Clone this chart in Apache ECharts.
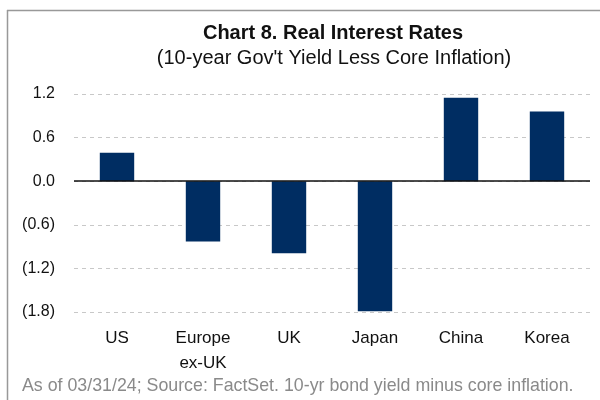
<!DOCTYPE html>
<html><head><meta charset="utf-8">
<script src="https://cdn.jsdelivr.net/npm/echarts@6/dist/echarts.min.js"></script>
<style>html,body{margin:0;padding:0;background:#fff}#c{width:600px;height:400px}</style>
</head><body><div id="c"></div>
<script>
var categories = ['US', 'Europe\nex-UK', 'UK', 'Japan', 'China', 'Korea'];
var values = [0.39, -0.83, -0.99, -1.79, 1.15, 0.96];
var yMin = -1.8, yMax = 1.2, yStep = 0.6;

function fmt(v) {
  var a = Math.abs(v).toFixed(1);
  return v < -1e-9 ? '(' + a + ')' : a;
}

var FF = 'Liberation Sans, Arial, sans-serif';
var chart = echarts.init(document.getElementById('c'), null, {renderer: 'canvas'});
chart.setOption({
  animation: false,
  textStyle: {fontFamily: FF},
  graphic: [
    {type: 'line', shape: {x1: 7, y1: 10.5, x2: 600, y2: 10.5}, style: {stroke: '#999', lineWidth: 1.5}},
    {type: 'line', shape: {x1: 7.5, y1: 10, x2: 7.5, y2: 400}, style: {stroke: '#999', lineWidth: 1.5}}
  ],
  title: [
    {text: 'Chart 8. Real Interest Rates', left: 328, top: 18, textAlign: 'center',
     textStyle: {fontSize: 20, fontWeight: 'bold', color: '#111', fontFamily: FF}},
    {text: "(10-year Gov't Yield Less Core Inflation)", left: 329, top: 43, textAlign: 'center',
     textStyle: {fontSize: 20, fontWeight: 'normal', color: '#111', fontFamily: FF}},
    {text: 'As of 03/31/24; Source: FactSet. 10-yr bond yield minus core inflation.', left: 17, top: 372,
     textStyle: {fontSize: 17.8, fontWeight: 'normal', color: '#8a8a8a', fontFamily: FF}}
  ],
  grid: {left: 74, right: 10, top: 94, bottom: 88, containLabel: false},
  xAxis: {
    type: 'category', data: categories, position: 'bottom',
    axisLine: {show: false}, axisTick: {show: false},
    axisLabel: {interval: 0, fontSize: 17, color: '#111', margin: 14, lineHeight: 25, verticalAlign: 'top'}
  },
  yAxis: {
    type: 'value', min: yMin, max: yMax, interval: yStep,
    axisLine: {show: false}, axisTick: {show: false},
    axisLabel: {formatter: fmt, fontSize: 16, color: '#111', margin: 19},
    splitLine: {lineStyle: {type: [4, 4], color: '#c8c8c8', width: 1}}
  },
  series: [{
    type: 'bar', data: values, barWidth: '40%',
    itemStyle: {color: '#002D62'},
    markLine: {
      silent: true, symbol: 'none', label: {show: false},
      lineStyle: {color: '#111', type: 'solid', width: 1.5},
      data: [{yAxis: 0}]
    }
  }]
});
</script></body></html>
